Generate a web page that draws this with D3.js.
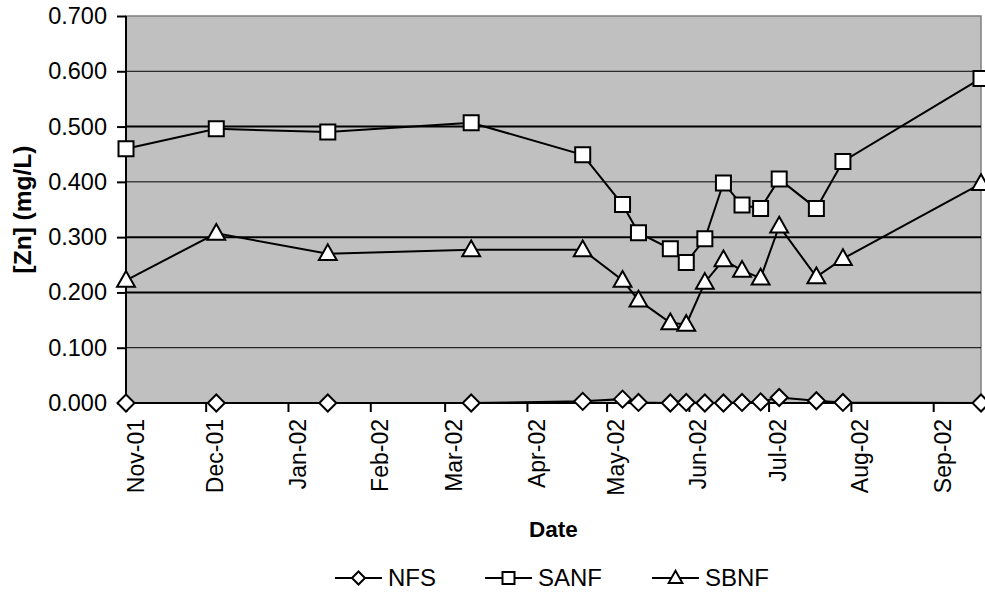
<!DOCTYPE html>
<html>
<head>
<meta charset="utf-8">
<script src="https://cdn.jsdelivr.net/npm/d3@7"></script>
<style>
  body { margin: 0; background: #fff; }
  text { font-family: "Liberation Sans", Arial, sans-serif; fill: #000; }
</style>
</head>
<body>
<div id="chart"></div>
<script>
// sample dates and zinc concentrations (mg/L)
var dates = ["2001-11-01", "2001-12-05", "2002-01-16", "2002-03-11", "2002-04-22", "2002-05-07",
  "2002-05-13", "2002-05-25", "2002-05-31", "2002-06-07", "2002-06-14", "2002-06-21",
  "2002-06-28", "2002-07-05", "2002-07-19", "2002-07-29", "2002-09-19"];
var nfs  = [0.000, 0.000, 0.000, 0.000, 0.003, 0.007, 0.001, 0.000, 0.001, 0.000, 0.000, 0.001, 0.002, 0.010, 0.004, 0.001, 0.000];
var sanf = [0.460, 0.496, 0.490, 0.507, 0.449, 0.359, 0.308, 0.279, 0.254, 0.297, 0.398, 0.358, 0.352, 0.405, 0.352, 0.437, 0.587];
var sbnf = [0.222, 0.307, 0.270, 0.277, 0.277, 0.222, 0.186, 0.145, 0.142, 0.218, 0.259, 0.240, 0.226, 0.320, 0.228, 0.261, 0.397];
var seriesNames = ["NFS", "SANF", "SBNF"];
var markers = ["diamond", "square", "triangle"];
var yTicks = [0, 0.1, 0.2, 0.3, 0.4, 0.5, 0.6, 0.7];
var monthTicks = ["2001-11-01", "2001-12-01", "2002-01-01", "2002-02-01", "2002-03-01", "2002-04-01",
  "2002-05-01", "2002-06-01", "2002-07-01", "2002-08-01", "2002-09-01"];

var W = 985, H = 593;
var margin = {top: 16, right: 4, bottom: 190, left: 126};
var width = W - margin.left - margin.right,
    height = H - margin.top - margin.bottom;

var parse = d3.timeParse("%Y-%m-%d");
var fmt = d3.timeFormat("%b-%y");

var svg = d3.select("#chart")
  .append("svg")
  .attr("width", W)
  .attr("height", H);

var g = svg.append("g")
  .attr("transform", "translate(" + margin.left + "," + margin.top + ")");

var x = d3.scaleTime()
  .domain([parse(dates[0]), parse(dates[dates.length - 1])])
  .range([0, width]);
var y = d3.scaleLinear().domain([0, 0.7]).range([height, 0]);

// plot area
g.append("rect")
  .attr("width", width).attr("height", height)
  .attr("fill", "#c0c0c0")
  .attr("stroke", "#808080").attr("stroke-width", 1.5);

// gridlines
g.selectAll(".grid")
  .data(yTicks.filter(function(d) { return d > 0 && d < 0.7; }))
  .join("line")
  .attr("class", "grid")
  .attr("x1", 0).attr("x2", width)
  .attr("y1", function(d) { return y(d); })
  .attr("y2", function(d) { return y(d); })
  .attr("stroke", "#000")
  .attr("stroke-width", function(d, i) { return [1, 2, 2, 1, 2, 1][i]; });

// axes
var yAxis = g.append("g")
  .call(d3.axisLeft(y).tickValues(yTicks).tickFormat(d3.format(".3f")).tickSize(9).tickPadding(10));
var xAxis = g.append("g")
  .attr("transform", "translate(0," + height + ")")
  .call(d3.axisBottom(x).tickValues(monthTicks.map(parse)).tickFormat(fmt).tickSize(9).tickPadding(0));

[yAxis, xAxis].forEach(function(a) {
  a.select(".domain").attr("stroke", "#000").attr("stroke-width", 2);
  a.selectAll(".tick line").attr("stroke", "#000").attr("stroke-width", 2);
  a.selectAll("text").attr("fill", "#000");
});
yAxis.selectAll("text").style("font-size", "23.5px");
xAxis.selectAll("text").style("font-size", "23px");
xAxis.selectAll(".domain").attr("d", "M0,0H" + width);
yAxis.selectAll(".domain").attr("d", "M0," + height + "V0");

xAxis.selectAll(".tick text")
  .attr("text-anchor", "end")
  .attr("dy", "0.35em")
  .attr("transform", "translate(0,16) rotate(-90)");

// marker shapes
function markerPath(type, s) {
  if (type === "diamond") return "M0," + (-s) + "L" + s + ",0L0," + s + "L" + (-s) + ",0Z";
  if (type === "square") return "M" + (-s) + "," + (-s) + "H" + s + "V" + s + "H" + (-s) + "Z";
  return "M0," + (-s * 1.1) + "L" + (s * 1.05) + "," + (s * 0.75) + "L" + (-s * 1.05) + "," + (s * 0.75) + "Z";
}

var allSeries = [nfs, sanf, sbnf];
var line = d3.line()
  .x(function(d) { return x(parse(d[0])); })
  .y(function(d) { return y(d[1]); });

// draw bottom series last so it sits on top of the axis
[1, 2, 0].forEach(function(si) {
  var pts = dates.map(function(d, i) { return [d, allSeries[si][i]]; });
  g.append("path")
    .datum(pts)
    .attr("d", line)
    .attr("fill", "none")
    .attr("stroke", "#000")
    .attr("stroke-width", 2);
  g.selectAll(".m" + si)
    .data(pts)
    .join("path")
    .attr("class", "m" + si)
    .attr("d", markerPath(markers[si], si === 1 ? 7.5 : 8.5))
    .attr("transform", function(d) { return "translate(" + x(parse(d[0])) + "," + y(d[1]) + ")"; })
    .attr("fill", "#fff")
    .attr("stroke", "#000")
    .attr("stroke-width", 2);
});

// axis titles
svg.append("text")
  .attr("x", margin.left + width / 2)
  .attr("y", 537)
  .attr("text-anchor", "middle")
  .style("font-size", "22.5px")
  .style("font-weight", "bold")
  .text("Date");

svg.append("text")
  .attr("transform", "translate(31," + (margin.top + height / 2) + ") rotate(-90)")
  .attr("text-anchor", "middle")
  .style("font-size", "24.5px")
  .style("font-weight", "bold")
  .text("[Zn] (mg/L)");

// legend
var legendX = [335, 485, 652];
var legend = svg.selectAll(".legend")
  .data(seriesNames)
  .join("g")
  .attr("class", "legend")
  .attr("transform", function(d, i) { return "translate(" + legendX[i] + ",578)"; });
legend.append("line")
  .attr("x1", 0).attr("x2", 47)
  .attr("stroke", "#000").attr("stroke-width", 2);
legend.append("path")
  .attr("d", function(d, i) { return markerPath(markers[i], i === 1 ? 6 : 6.5); })
  .attr("transform", "translate(23.5,0)")
  .attr("fill", "#fff").attr("stroke", "#000").attr("stroke-width", 2);
legend.append("text")
  .attr("x", 53)
  .attr("dy", "0.35em")
  .style("font-size", "24px")
  .text(function(d) { return d; });
</script>
</body>
</html>
